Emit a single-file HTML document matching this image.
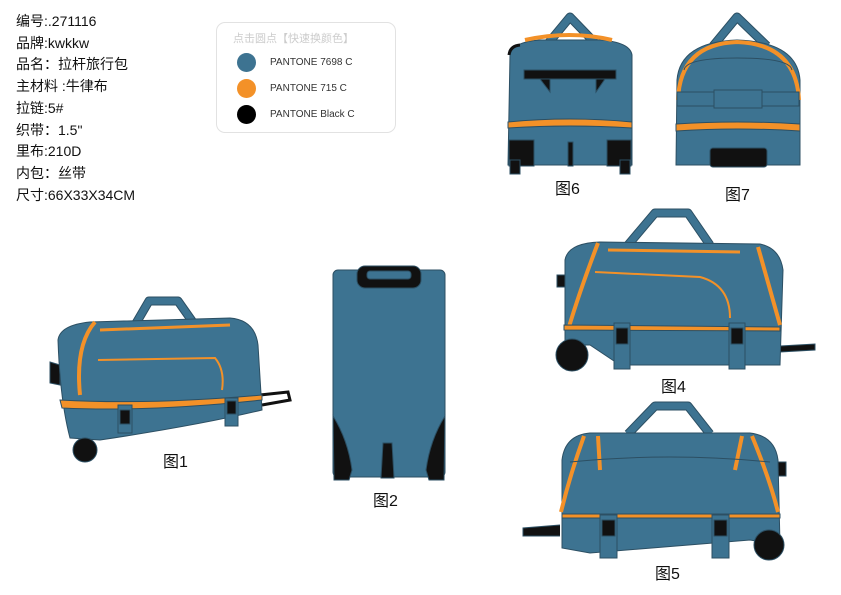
<!DOCTYPE html>
<html><head><meta charset="utf-8"><style>
body{margin:0;width:841px;height:595px;background:#fff;overflow:hidden;font-family:"Liberation Sans","Noto Sans CJK SC",sans-serif}
.info{position:absolute;left:16px;top:11px;font-size:14px;line-height:21.7px;color:#111}
.leg{position:absolute;left:216px;top:22px;width:178px;height:109px;border:1px solid #e2e2e2;border-radius:9px;font-size:10px;color:#333}
.leg .t{position:absolute;left:16px;top:7px;color:#ccc;font-size:11px}
.leg .r{position:absolute;left:20px;display:flex;align-items:center}
.leg .r i{width:19px;height:19px;border-radius:50%;display:inline-block;margin-right:14px}
.lb{position:absolute;font-size:16px;color:#111}
svg{position:absolute;left:0;top:0}
.h1{stroke:#2c4f63;stroke-width:9;fill:none;stroke-linejoin:round}
.h2{stroke:#3d7391;stroke-width:7;fill:none;stroke-linejoin:round}
</style></head><body>
<div class="info">编号:.271116<br>品牌:kwkkw<br>品名：拉杆旅行包<br>主材料 :牛律布<br>拉链:5#<br>织带：1.5"<br>里布:210D<br>内包：丝带<br>尺寸:66X33X34CM</div>
<div class="leg"><div class="t">点击圆点【快速换颜色】</div>
<div class="r" style="top:30px"><i style="background:#3d7391"></i>PANTONE 7698 C</div>
<div class="r" style="top:56px"><i style="background:#f39128"></i>PANTONE 715 C</div>
<div class="r" style="top:82px"><i style="background:#000"></i>PANTONE Black C</div></div>
<svg width="841" height="595" viewBox="0 0 841 595">
<!-- handles -->
<path class="h1" d="M546 46 L570 17 L598 46"/><path class="h2" d="M546 46 L570 17 L598 46"/>
<path class="h1" d="M713 46 L737 17 L767 46"/><path class="h2" d="M713 46 L737 17 L767 46"/>
<path class="h1" d="M135 325 L149 301 L178 301 L197 328"/><path class="h2" d="M135 325 L149 301 L178 301 L197 328"/>
<path class="h1" d="M628 245 L655 213 L688 213 L710 245"/><path class="h2" d="M628 245 L655 213 L688 213 L710 245"/>
<path class="h1" d="M628 434 L655 406 L688 406 L710 434"/><path class="h2" d="M628 434 L655 406 L688 406 L710 434"/>
<g stroke="#2c4f63" stroke-width="1">
<!-- fig6 -->
<path d="M510 55 Q512 42 540 40 L600 40 Q630 42 632 55 L632 165 L508 165Z" fill="#3d7391"/>
<path d="M525 40 Q570 30 612 40" stroke="#f39128" stroke-width="4" fill="none"/>
<path d="M509 55 Q510 46 520 45" stroke="#111" stroke-width="3" fill="none"/>
<rect x="524" y="70" width="92" height="9" fill="#111"/>
<path d="M540 79 L550 92 L550 79Z M596 79 L596 92 L605 79Z" fill="#111"/>
<path d="M508 122 Q570 116 632 122 L632 128 Q570 124 508 128Z" fill="#f39128"/>
<rect x="509" y="140" width="25" height="26" fill="#111"/><rect x="510" y="160" width="10" height="14" fill="#111"/>
<rect x="607" y="140" width="24" height="26" fill="#111"/><rect x="620" y="160" width="10" height="14" fill="#111"/>
<rect x="568" y="142" width="5" height="24" fill="#111"/>
<!-- fig7 -->
<path d="M677 80 Q680 42 737 40 Q797 42 800 80 L800 165 L676 165Z" fill="#3d7391"/>
<path d="M678 100 Q680 44 737 42 Q796 44 799 100" stroke="#f39128" stroke-width="4" fill="none"/>
<path d="M684 70 Q686 58 737 58 Q790 58 792 70" stroke="#2c4f63" fill="none"/>
<rect x="677" y="92" width="122" height="14" fill="#3d7391"/>
<rect x="714" y="90" width="48" height="18" fill="#3d7391"/>
<path d="M676 124 Q737 120 800 124 L800 131 Q737 127 676 131Z" fill="#f39128"/>
<rect x="710" y="148" width="57" height="19" rx="3" fill="#111"/>
<!-- fig2 -->
<rect x="333" y="270" width="112" height="207" rx="5" fill="#3d7391"/>
<rect x="357" y="266" width="64" height="22" rx="8" fill="#111"/>
<rect x="367" y="271" width="44" height="8" rx="3" fill="#3d7391"/>
<path d="M333 416 Q348 440 352 470 L349 480 L334 480Z M445 416 Q430 440 426 470 L429 480 L444 480Z" fill="#111"/>
<path d="M381 478 L383 443 L392 443 L394 478Z" fill="#111"/>
<!-- fig1 -->
<path d="M260 395 L288 392 L290 400 L262 405" stroke="#111" stroke-width="3" fill="none"/>
<path d="M50 362 L60 365 L60 385 L50 383Z" fill="#111"/>
<path d="M58 340 Q60 325 90 322 L230 318 Q255 320 258 345 L262 410 Q200 425 100 440 L70 438 Q60 400 58 340Z" fill="#3d7391"/>
<path d="M95 322 Q75 345 80 395" stroke="#f39128" stroke-width="4" fill="none"/>
<path d="M100 330 L230 325" stroke="#f39128" stroke-width="3" fill="none"/>
<path d="M98 360 L215 358 Q225 370 222 390" stroke="#f39128" stroke-width="2" fill="none"/>
<path d="M60 400 Q150 405 262 395 L262 400 Q150 412 62 408Z" fill="#f39128"/>
<circle cx="85" cy="450" r="12" fill="#111"/>
<rect x="118" y="405" width="14" height="28" fill="#3d7391"/><rect x="120" y="410" width="10" height="14" fill="#111"/>
<rect x="225" y="398" width="13" height="28" fill="#3d7391"/><rect x="227" y="401" width="9" height="13" fill="#111"/>
<!-- fig4 -->
<path d="M780 346 L815 344 L815 350 L780 352" fill="#111"/>
<rect x="557" y="275" width="8" height="12" fill="#111"/>
<path d="M565 260 Q568 243 600 242 L760 244 Q780 248 783 270 L780 365 L620 365 L590 345 L565 345Z" fill="#3d7391"/>
<path d="M598 243 Q580 290 568 330" stroke="#f39128" stroke-width="4" fill="none"/>
<path d="M758 247 Q770 290 780 325" stroke="#f39128" stroke-width="4" fill="none"/>
<path d="M608 250 L740 252" stroke="#f39128" stroke-width="3" fill="none"/>
<path d="M595 272 L700 277 Q730 285 730 318" stroke="#f39128" stroke-width="2" fill="none"/>
<path d="M564 325 L780 327 L780 331 L564 330Z" fill="#f39128"/>
<circle cx="572" cy="355" r="16" fill="#111"/>
<rect x="614" y="323" width="16" height="46" fill="#3d7391"/><rect x="616" y="328" width="12" height="16" fill="#111"/>
<rect x="729" y="323" width="16" height="46" fill="#3d7391"/><rect x="731" y="328" width="12" height="16" fill="#111"/>
<!-- fig5 -->
<path d="M560 525 L523 528 L523 536 L560 536" fill="#111"/>
<rect x="778" y="462" width="8" height="14" fill="#111"/>
<path d="M562 460 Q565 435 590 433 L750 433 Q775 436 778 460 L780 545 L750 540 L590 553 L562 548Z" fill="#3d7391"/>
<path d="M584 436 Q570 475 561 512 M598 436 L600 470 M742 436 L735 470 M752 436 Q770 480 778 512" stroke="#f39128" stroke-width="4" fill="none"/>
<path d="M570 462 Q670 452 770 462" stroke="#2c4f63" fill="none"/>
<path d="M562 514 L780 514 L780 518 L562 518Z" fill="#f39128"/>
<circle cx="769" cy="545" r="15" fill="#111"/>
<rect x="600" y="515" width="17" height="43" fill="#3d7391"/><rect x="602" y="520" width="13" height="16" fill="#111"/>
<rect x="712" y="515" width="17" height="43" fill="#3d7391"/><rect x="714" y="520" width="13" height="16" fill="#111"/>
</g>
</svg>
<div class="lb" style="left:163px;top:448px">图1</div>
<div class="lb" style="left:373px;top:487px">图2</div>
<div class="lb" style="left:555px;top:175px">图6</div>
<div class="lb" style="left:725px;top:181px">图7</div>
<div class="lb" style="left:661px;top:373px">图4</div>
<div class="lb" style="left:655px;top:560px">图5</div>
</body></html>
